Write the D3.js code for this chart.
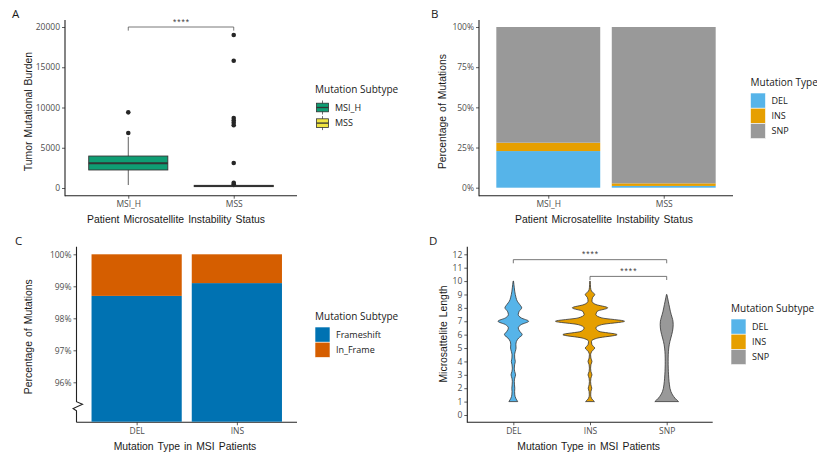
<!DOCTYPE html>
<html>
<head>
<meta charset="utf-8">
<script src="https://cdn.jsdelivr.net/npm/d3@7"></script>
<style>
    body { margin: 0; background: #fff; }
    svg { display: block; }
    .tick text { font-family: 'Open Sans', sans-serif; font-size: 8.5px; fill: #4d4d4d; }
    .tick line { stroke: #333; stroke-width: 0.8; }
    .axis-line { stroke: #222; stroke-width: 1.1; fill: none; }
    .axis-title { font-family: 'Liberation Sans', Arial, sans-serif; font-size: 10.4px; fill: #1a1a1a; word-spacing: 1.2px; }
    .legend-title { font-family: 'Open Sans', sans-serif; font-size: 10px; fill: #1a1a1a; }
    .legend-label { font-family: 'Open Sans', sans-serif; font-size: 9px; fill: #1a1a1a; }
    .panel-tag { font-family: 'Open Sans', sans-serif; font-size: 11.5px; fill: #1a1a1a; }
    .sig-line { stroke: #555; stroke-width: 0.8; fill: none; }
    .sig-text { font-family: 'Liberation Sans', Arial, sans-serif; font-size: 8.5px; fill: #444; letter-spacing: 1px; }
</style>
</head>
<body>
<svg id="fig" width="817" height="455"></svg>
<script>
// ---------- data ----------
const statusGroups = ['MSI_H', 'MSS'];
// boxplot summaries: [lower whisker, q1, median, q3, upper whisker]
const msiTmbStats = [370, 2240, 3070, 3970, 6350];
const mssTmbStats = [90, 170, 250, 330, 420];
const msiTmbOutliers = [6830, 9400];
const mssTmbOutliers = [460, 660, 3100, 7800, 8100, 8400, 8700, 15800, 19000];
const tmbTicks = [0, 5000, 10000, 15000, 20000];

const mutationTypes = ['DEL', 'INS', 'SNP'];
const delShare = [22.8, 1.1];
const insShare = [5.2, 1.6];
const snpShare = [72.0, 97.3];
const shareTicks = [0, 25, 50, 75, 100];

const msiTypes = ['DEL', 'INS'];
const frameSubtypes = ['Frameshift', 'In_Frame'];
const frameshiftShare = [98.7, 99.1];
const inFrameShare = [1.3, 0.9];
const frameTicks = [96, 97, 98, 99, 100];

// violin density profiles (relative units) along microsatellite length
const lengthGrid = [1, 1.25, 1.5, 1.75, 2, 2.25, 2.5, 2.75, 3, 3.25, 3.5, 3.75, 4, 4.25, 4.5, 4.75,
    5, 5.25, 5.5, 5.75, 6, 6.25, 6.5, 6.75, 7, 7.25, 7.5, 7.75, 8, 8.25, 8.5, 8.75, 9, 9.25, 9.5, 9.75, 10];
const delDensity = [4.5, 2.5, 1.5, 1.3, 1.5, 1.2, 1.0, 1.4, 2.3, 1.4, 1.0, 1.3, 2.0, 1.4, 1.3, 2.0,
    2.8, 2.6, 3.2, 5.5, 9.0, 6.5, 5.0, 8.0, 15.5, 8.0, 5.0, 6.0, 8.5, 6.5, 4.0, 2.8, 2.0, 1.4, 1.0, 0.6, 0.2];
const insDensity = [4.5, 1.5, 0.7, 0.9, 1.8, 0.9, 0.6, 0.9, 2.0, 0.9, 0.6, 0.9, 2.0, 0.9, 0.6, 1.8,
    4.8, 2.0, 1.5, 8.0, 27.5, 9.0, 6.0, 12.0, 35.0, 12.0, 6.0, 7.5, 18.0, 6.0, 2.0, 2.5, 4.8, 1.5, 0.6, 0.4, 0.2];
const snpDensity = [12.0, 8.5, 6.0, 4.3, 3.3, 2.8, 2.4, 2.1, 1.9, 1.7, 1.6, 1.5, 1.5, 1.5, 1.6, 1.8,
    2.1, 2.6, 3.3, 4.2, 5.1, 5.9, 6.4, 6.6, 6.4, 5.6, 4.6, 3.7, 3.0, 2.3, 1.6, 0.9, 0.2, null, null, null, null];
const lengthTicks = [0, 1, 2, 3, 4, 5, 6, 7, 8, 9, 10, 11, 12];
const lengthBrackets = [
    { from: 'DEL', to: 'SNP', at: 11.6, label: '****' },
    { from: 'INS', to: 'SNP', at: 10.35, label: '****' }
];

const typeColors = { DEL: '#56B4E9', INS: '#E69F00', SNP: '#999999' };
const statusColors = { MSI_H: '#0F9D73', MSS: '#F0E442' };
const frameColors = { Frameshift: '#0072B2', In_Frame: '#D55E00' };

// ---------- helpers ----------
const svg = d3.select('#fig');

function yAxis(panel, y, ticks, fmt) {
    const g = svg.append('g')
        .attr('transform', `translate(${panel.left},0)`)
        .call(d3.axisLeft(y).tickValues(ticks).tickFormat(fmt).tickSize(3).tickPadding(2));
    g.select('.domain').remove();
    return g;
}

function xAxis(panel, x) {
    const g = svg.append('g')
        .attr('transform', `translate(0,${panel.bottom})`)
        .call(d3.axisBottom(x).tickSize(3).tickPadding(2.5));
    g.select('.domain').remove();
    svg.append('path').attr('class', 'axis-line')
        .attr('d', `M${panel.left},${panel.bottom}H${panel.right}`);
    return g;
}

function yLine(panel) {
    svg.append('path').attr('class', 'axis-line')
        .attr('d', `M${panel.left},${panel.top}V${panel.bottom}H${panel.left + 0.5}`);
}

function titles(panel, xTitle, yTitle, tag) {
    svg.append('text').attr('class', 'axis-title')
        .attr('x', panel.xTitleX).attr('y', panel.bottom + 27.5)
        .attr('text-anchor', 'middle').text(xTitle);
    svg.append('text').attr('class', 'axis-title')
        .attr('transform', `translate(${panel.yTitleX},${panel.yTitleY}) rotate(-90)`)
        .attr('text-anchor', 'middle').text(yTitle);
    svg.append('text').attr('class', 'panel-tag')
        .attr('x', panel.tagX).attr('y', panel.top - 2).text(tag);
}

function swatchLegend(x, y, title, keys, colors) {
    const g = svg.append('g').attr('transform', `translate(${x},${y})`);
    g.append('text').attr('class', 'legend-title').attr('x', 0).attr('y', 0).text(title);
    const row = g.selectAll('g.key').data(keys).join('g')
        .attr('class', 'key')
        .attr('transform', (d, i) => `translate(0,${7.5 + i * 15.2})`);
    row.append('rect')
        .attr('width', 15).attr('height', 15.2)
        .attr('fill', d => colors[d])
        .attr('stroke', '#fff').attr('stroke-width', 0.6);
    row.append('text').attr('class', 'legend-label')
        .attr('x', 21).attr('y', 10.9).text(d => d);
    return g;
}

function bracket(x1, x2, yTop, yFoot, label) {
    svg.append('path').attr('class', 'sig-line')
        .attr('d', `M${x1},${yFoot}V${yTop}H${x2}V${yFoot}`);
    svg.append('text').attr('class', 'sig-text')
        .attr('x', (x1 + x2) / 2 + 0.5).attr('y', yTop - 2.5)
        .attr('text-anchor', 'middle').text(label);
}

// ---------- A: tumour mutational burden ----------
const pA = { left: 65, right: 297, top: 20, bottom: 195.7, xTitleX: 176, yTitleX: 32, yTitleY: 111.5, tagX: 12 };
const xA = d3.scalePoint().domain(statusGroups).range([pA.left, pA.right]).padding(0.6);
const yA = d3.scaleLinear().domain([0, 20000]).range([188, 27]);
const boxW = xA.step() * 0.75;
const boxData = [
    { group: 'MSI_H', s: msiTmbStats, out: msiTmbOutliers },
    { group: 'MSS', s: mssTmbStats, out: mssTmbOutliers }
];

yAxis(pA, yA, tmbTicks, d3.format('d'));
yLine(pA);
xAxis(pA, xA);

const boxes = svg.append('g').selectAll('g').data(boxData).join('g');
boxes.append('line')
    .attr('x1', d => xA(d.group)).attr('x2', d => xA(d.group))
    .attr('y1', d => yA(d.s[0])).attr('y2', d => yA(d.s[4]))
    .attr('stroke', '#4d4d4d').attr('stroke-width', 0.9);
boxes.append('rect')
    .attr('x', d => xA(d.group) - boxW / 2).attr('width', boxW)
    .attr('y', d => yA(d.s[3])).attr('height', d => yA(d.s[1]) - yA(d.s[3]))
    .attr('fill', d => statusColors[d.group])
    .attr('stroke', '#333').attr('stroke-width', 0.9);
boxes.append('line')
    .attr('x1', d => xA(d.group) - boxW / 2).attr('x2', d => xA(d.group) + boxW / 2)
    .attr('y1', d => yA(d.s[2])).attr('y2', d => yA(d.s[2]))
    .attr('stroke', '#333').attr('stroke-width', 1.9);
boxes.selectAll('circle').data(d => d.out.map(v => ({ group: d.group, v }))).join('circle')
    .attr('cx', d => xA(d.group)).attr('cy', d => yA(d.v))
    .attr('r', 2.3).attr('fill', '#262626');

bracket(xA('MSI_H'), xA('MSS'), yA(20000), yA(19550), '****');
titles(pA, 'Patient Microsatellite Instability Status', 'Tumor Mutational Burden', 'A');

// legend with boxplot glyphs
const legA = svg.append('g').attr('transform', 'translate(315,93)');
legA.append('text').attr('class', 'legend-title').text('Mutation Subtype');
const keyA = legA.selectAll('g.key').data(statusGroups).join('g')
    .attr('class', 'key')
    .attr('transform', (d, i) => `translate(0,${7 + i * 15.6})`);
keyA.append('line').attr('x1', 7.5).attr('x2', 7.5).attr('y1', 0.5).attr('y2', 14.5)
    .attr('stroke', '#4d4d4d').attr('stroke-width', 0.8);
keyA.append('rect').attr('x', 1.5).attr('y', 3.2).attr('width', 12).attr('height', 8.6)
    .attr('fill', d => statusColors[d]).attr('stroke', '#333').attr('stroke-width', 0.8);
keyA.append('line').attr('x1', 1.5).attr('x2', 13.5).attr('y1', 7.5).attr('y2', 7.5)
    .attr('stroke', '#333').attr('stroke-width', 1.3);
keyA.append('text').attr('class', 'legend-label').attr('x', 20).attr('y', 10.9).text(d => d);

// ---------- B: mutation type share ----------
const pB = { left: 479, right: 733, top: 20, bottom: 195.7, xTitleX: 604, yTitleX: 446, yTitleY: 111.6, tagX: 431 };
const xB = d3.scalePoint().domain(statusGroups).range([pB.left, pB.right]).padding(0.6);
const yB = d3.scaleLinear().domain([0, 100]).range([187.7, 27]);
const barB = xB.step() * 0.9;
const stackB = d3.stack().keys(mutationTypes)(statusGroups.map((g, i) => ({
    group: g, DEL: delShare[i], INS: insShare[i], SNP: snpShare[i]
})));

yAxis(pB, yB, shareTicks, d => d + '%');
yLine(pB);
xAxis(pB, xB);
svg.append('g').selectAll('g').data(stackB).join('g')
    .attr('fill', d => typeColors[d.key])
    .selectAll('rect').data(d => d).join('rect')
    .attr('x', d => xB(d.data.group) - barB / 2).attr('width', barB)
    .attr('y', d => yB(d[1])).attr('height', d => yB(d[0]) - yB(d[1]));
titles(pB, 'Patient Microsatellite Instability Status', 'Percentage of Mutations', 'B');
swatchLegend(750.5, 85.5, 'Mutation Type', mutationTypes, typeColors);

// ---------- C: frameshift share (broken axis) ----------
const pC = { left: 76.5, right: 297, top: 246.7, bottom: 422.3, xTitleX: 185, yTitleX: 32, yTitleY: 336.7, tagX: 15 };
const xC = d3.scalePoint().domain(msiTypes).range([pC.left, pC.right]).padding(0.6);
const yC = d3.scaleLinear().domain([96, 100]).range([382.3, 254.3]);
const barC = xC.step() * 0.9;
const stackC = d3.stack().keys(frameSubtypes)(msiTypes.map((t, i) => ({
    type: t, Frameshift: frameshiftShare[i], In_Frame: inFrameShare[i]
})));

yAxis(pC, yC, frameTicks, d => d + '%');
xAxis(pC, xC);
// y axis line with a break mark below 96%
svg.append('path').attr('class', 'axis-line')
    .attr('d', `M${pC.left},${pC.top}V401.7l6,2.6l-9.4,4.2l3.4,2.4V${pC.bottom}`);
svg.append('g').selectAll('g').data(stackC).join('g')
    .attr('fill', d => frameColors[d.key])
    .selectAll('rect').data(d => d).join('rect')
    .attr('x', d => xC(d.data.type) - barC / 2).attr('width', barC)
    .attr('y', d => yC(d[1]))
    .attr('height', d => (d[0] === 0 ? pC.bottom - 0.6 : yC(d[0])) - yC(d[1]));
titles(pC, 'Mutation Type in MSI Patients', 'Percentage of Mutations', 'C');
swatchLegend(315, 319.5, 'Mutation Subtype', frameSubtypes, frameColors);

// ---------- D: microsatellite length violins ----------
const pD = { left: 467.3, right: 712.7, top: 246.7, bottom: 422.3, xTitleX: 588.7, yTitleX: 446.7, yTitleY: 334, tagX: 429 };
const xD = d3.scalePoint().domain(mutationTypes).range([pD.left, pD.right]).padding(0.6);
const yD = d3.scaleLinear().domain([0, 12]).range([415, 254.3]);
const violins = [
    { type: 'DEL', density: delDensity },
    { type: 'INS', density: insDensity },
    { type: 'SNP', density: snpDensity }
];
const maxDensity = d3.max(violins, v => d3.max(v.density));
const wD = d3.scaleLinear().domain([0, maxDensity]).range([0, xD.step() * 0.45]);

yAxis(pD, yD, lengthTicks, d3.format('d'));
yLine(pD);
xAxis(pD, xD);
svg.append('g').selectAll('path').data(violins).join('path')
    .attr('fill', d => typeColors[d.type])
    .attr('stroke', '#333').attr('stroke-width', 0.8)
    .attr('stroke-linejoin', 'round')
    .attr('d', v => d3.area()
        .curve(d3.curveMonotoneY)
        .y(d => yD(d.len))
        .x0(d => xD(v.type) - wD(d.w))
        .x1(d => xD(v.type) + wD(d.w))(
            lengthGrid.map((len, i) => ({ len, w: v.density[i] })).filter(d => d.w != null)
        ));
lengthBrackets.forEach(b => bracket(xD(b.from), xD(b.to), yD(b.at), yD(b.at - 0.27), b.label));
titles(pD, 'Mutation Type in MSI Patients', 'Microsattelite Length', 'D');
swatchLegend(731, 311.5, 'Mutation Subtype', mutationTypes, typeColors);
</script>
</body>
</html>
